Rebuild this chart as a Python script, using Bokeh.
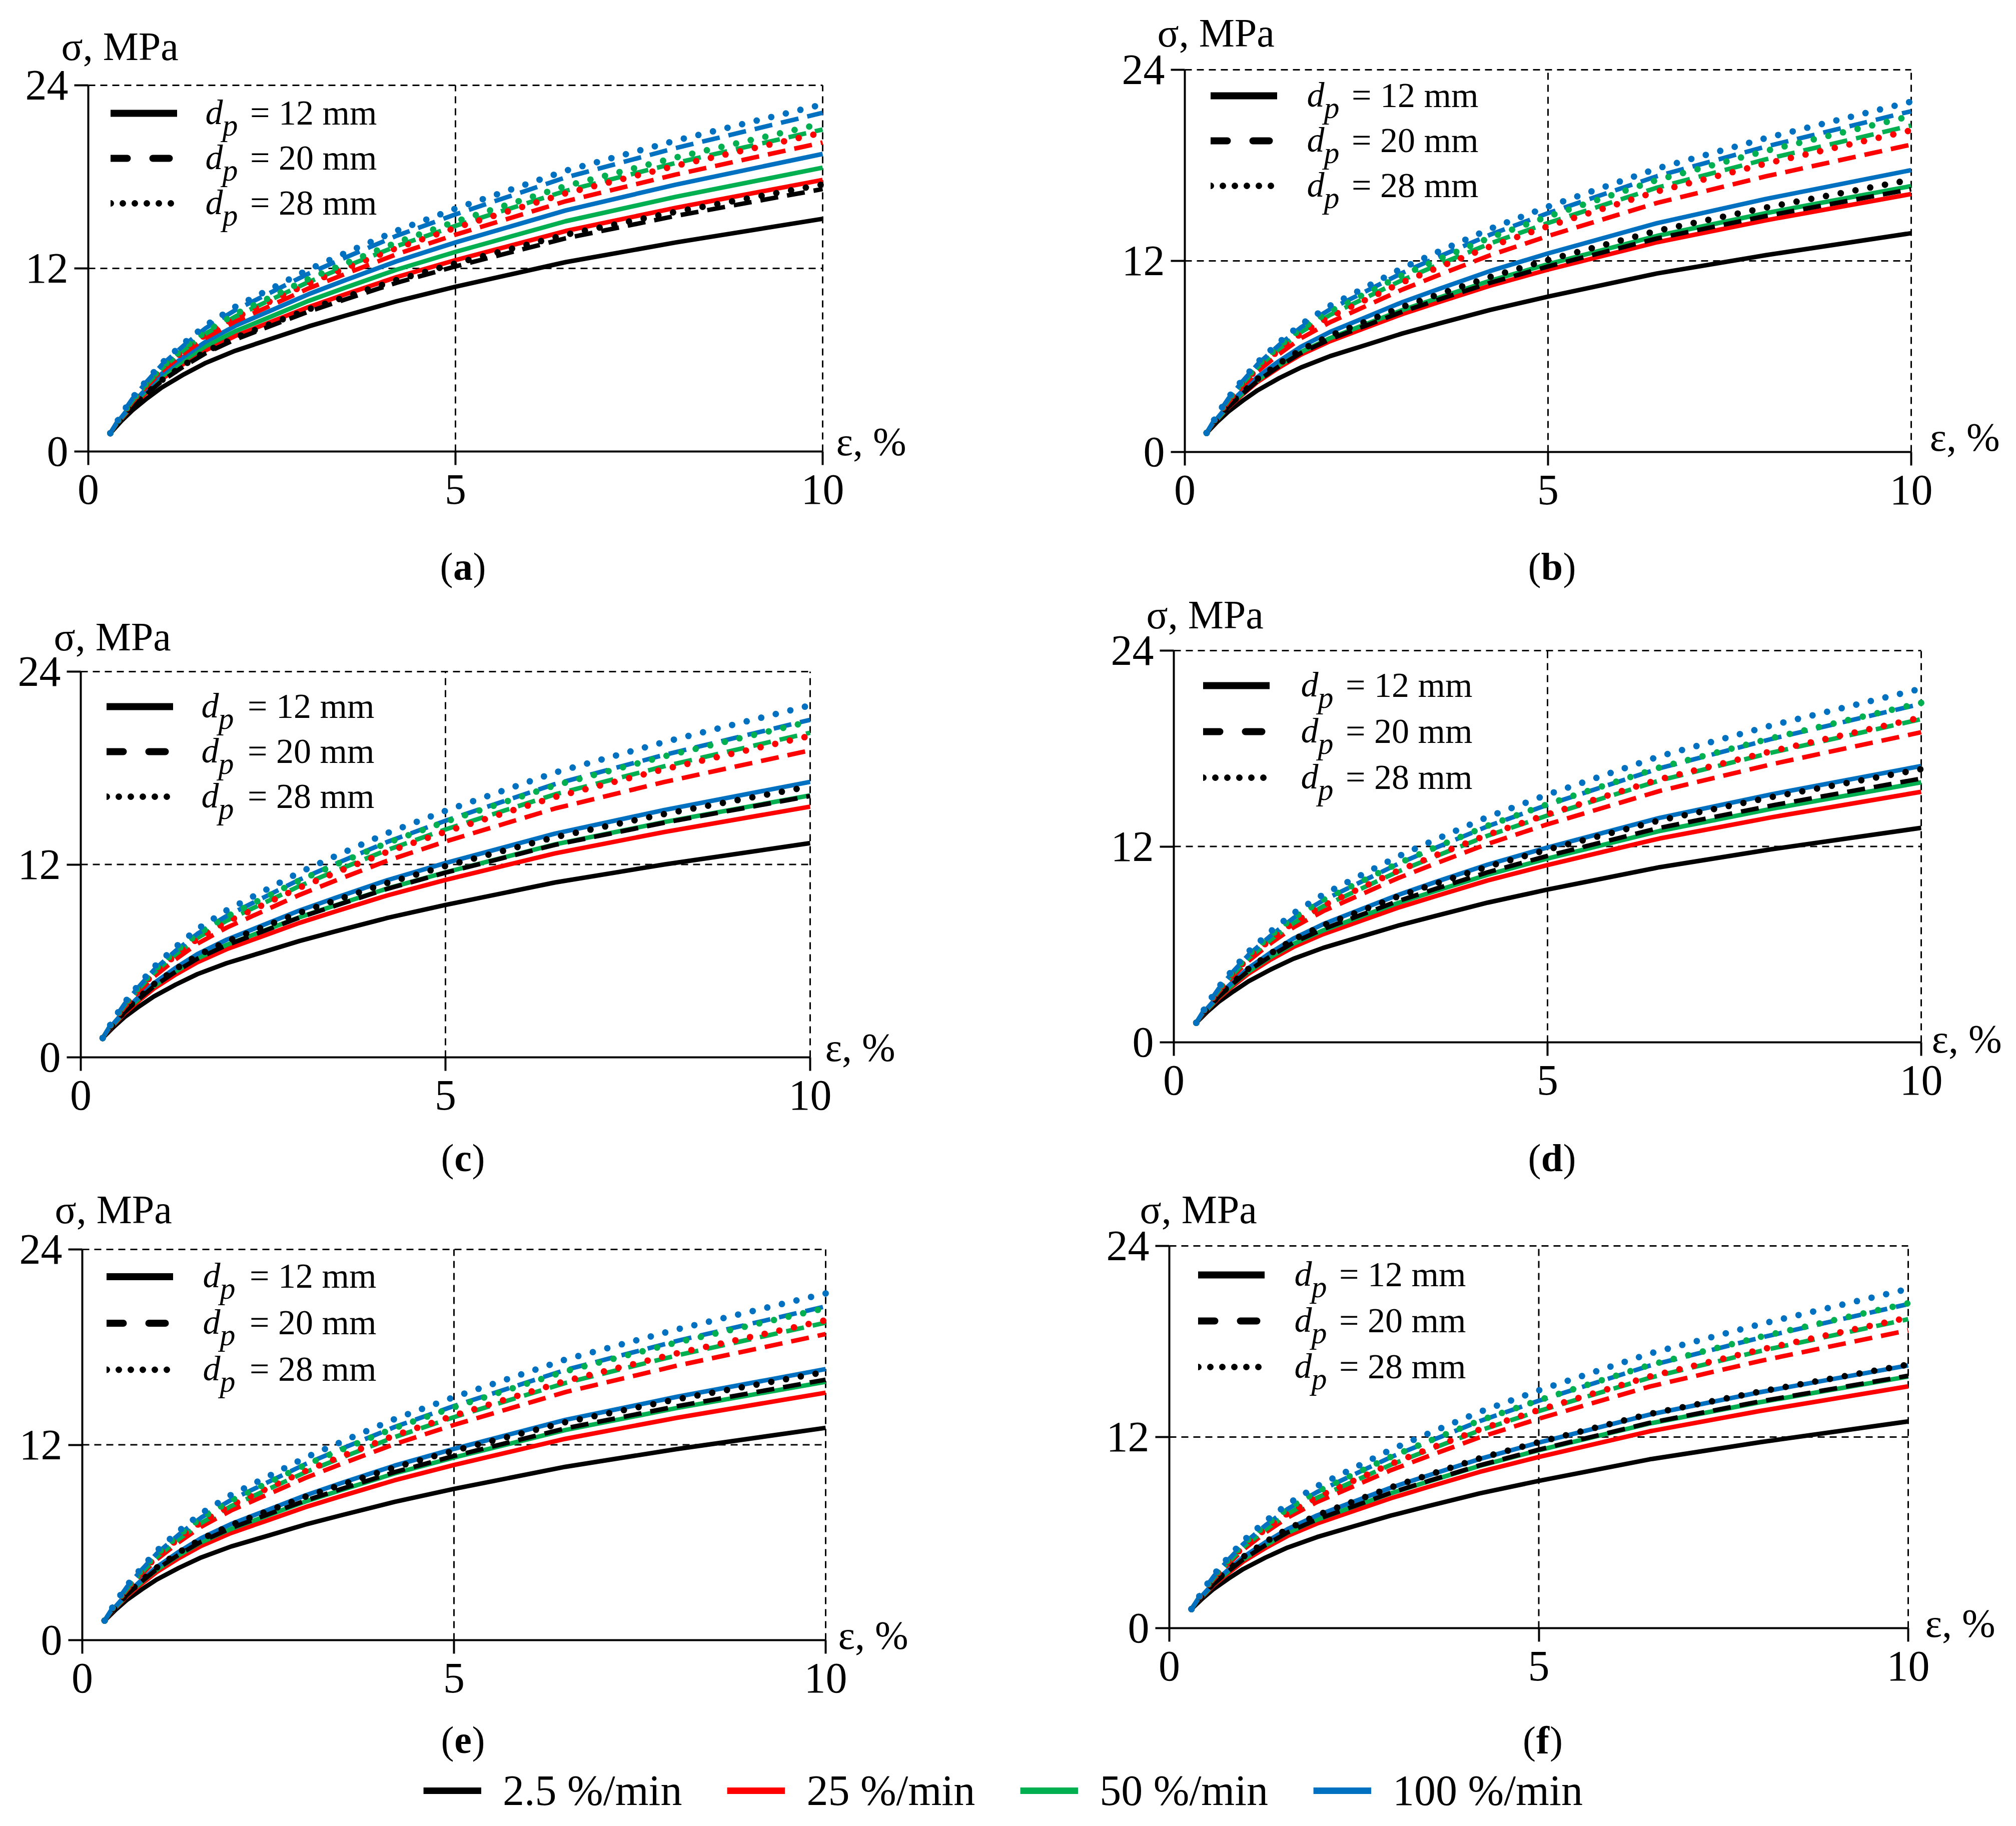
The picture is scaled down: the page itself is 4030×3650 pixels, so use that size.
import numpy as np
from bokeh.plotting import figure
from bokeh.models import Range1d, FixedTicker, Legend, LegendItem, Label
from bokeh.layouts import column, row
from bokeh.embed import file_html
from bokeh.resources import INLINE

# ---------------- data ----------------
EPS = [0.3, 0.45, 0.6, 0.8, 1.0, 1.3, 1.6, 2.0, 2.5, 3.0, 3.5, 4.2, 5.0, 6.5, 8.0, 10.0]
X_TICKS = [0, 5, 10]
Y_TICKS = [0, 12, 24]
RATE_LABELS = ["2.5 %/min", "25 %/min", "50 %/min", "100 %/min"]
RATE_COLORS = ["#000000", "#FF0000", "#00B050", "#0070C0"]
DP_LABELS = ["= 12 mm", "= 20 mm", "= 28 mm"]
PANEL_KEYS = ["a", "b", "c", "d", "e", "f"]

A_R2P5_D12 = [1.2, 2.00, 2.70, 3.48, 4.19, 5.05, 5.81, 6.60, 7.40, 8.20, 8.90, 9.85, 10.80, 12.41, 13.70, 15.25]
A_R2P5_D20 = [1.2, 2.11, 2.91, 3.79, 4.61, 5.58, 6.45, 7.34, 8.26, 9.17, 9.97, 11.06, 12.13, 13.97, 15.44, 17.2]
A_R2P5_D28 = [1.2, 2.13, 2.94, 3.84, 4.67, 5.67, 6.55, 7.46, 8.39, 9.32, 10.13, 11.24, 12.33, 14.21, 15.71, 17.5]
A_R25_D12 = [1.2, 2.15, 2.98, 3.89, 4.74, 5.75, 6.64, 7.57, 8.52, 9.47, 10.30, 11.43, 12.54, 14.45, 15.97, 17.8]
A_R25_D20 = [1.2, 2.29, 3.24, 4.29, 5.26, 6.42, 7.45, 8.52, 9.60, 10.69, 11.64, 12.93, 14.21, 16.40, 18.15, 20.25]
A_R25_D28 = [1.2, 2.32, 3.31, 4.39, 5.40, 6.60, 7.66, 8.76, 9.89, 11.01, 12.00, 13.34, 14.66, 16.92, 18.73, 20.9]
A_R50_D12 = [1.2, 2.19, 3.06, 4.02, 4.91, 5.97, 6.91, 7.88, 8.87, 9.87, 10.74, 11.92, 13.08, 15.09, 16.69, 18.6]
A_R50_D20 = [1.2, 2.33, 3.33, 4.42, 5.44, 6.65, 7.73, 8.84, 9.98, 11.11, 12.11, 13.46, 14.79, 17.08, 18.91, 21.1]
A_R50_D28 = [1.2, 2.36, 3.37, 4.49, 5.52, 6.76, 7.86, 9.00, 10.15, 11.31, 12.32, 13.70, 15.07, 17.40, 19.27, 21.5]
A_R100_D12 = [1.2, 2.24, 3.16, 4.16, 5.10, 6.21, 7.20, 8.23, 9.27, 10.31, 11.23, 12.47, 13.70, 15.80, 17.49, 19.5]
A_R100_D20 = [1.2, 2.40, 3.45, 4.60, 5.67, 6.95, 8.09, 9.26, 10.46, 11.66, 12.71, 14.14, 15.54, 17.96, 19.89, 22.2]
A_R100_D28 = [1.2, 2.43, 3.51, 4.69, 5.79, 7.10, 8.27, 9.48, 10.70, 11.93, 13.01, 14.47, 15.92, 18.40, 20.38, 22.75]

B_R2P5_D12 = [1.2, 1.91, 2.54, 3.23, 3.87, 4.64, 5.31, 6.02, 6.73, 7.45, 8.07, 8.92, 9.76, 11.21, 12.36, 13.74]
B_R2P5_D20 = [1.2, 2.07, 2.84, 3.68, 4.46, 5.39, 6.22, 7.08, 7.95, 8.82, 9.58, 10.62, 11.65, 13.41, 14.82, 16.5]
B_R2P5_D28 = [1.2, 2.11, 2.90, 3.78, 4.59, 5.56, 6.42, 7.31, 8.21, 9.12, 9.91, 10.99, 12.06, 13.89, 15.35, 17.1]
B_R25_D12 = [1.2, 2.06, 2.81, 3.63, 4.40, 5.31, 6.12, 6.96, 7.82, 8.67, 9.42, 10.44, 11.45, 13.17, 14.55, 16.2]
B_R25_D20 = [1.2, 2.23, 3.14, 4.13, 5.06, 6.16, 7.14, 8.15, 9.18, 10.21, 11.12, 12.35, 13.56, 15.64, 17.31, 19.3]
B_R25_D28 = [1.2, 2.28, 3.23, 4.28, 5.25, 6.41, 7.43, 8.50, 9.58, 10.66, 11.61, 12.90, 14.18, 16.36, 18.11, 20.2]
B_R50_D12 = [1.2, 2.08, 2.86, 3.71, 4.50, 5.45, 6.28, 7.15, 8.04, 8.92, 9.69, 10.75, 11.79, 13.57, 15.00, 16.7]
B_R50_D20 = [1.2, 2.30, 3.27, 4.33, 5.31, 6.49, 7.53, 8.61, 9.71, 10.81, 11.78, 13.09, 14.38, 16.60, 18.38, 20.5]
B_R50_D28 = [1.2, 2.33, 3.33, 4.42, 5.44, 6.65, 7.73, 8.84, 9.98, 11.11, 12.11, 13.46, 14.79, 17.08, 18.91, 21.1]
B_R100_D12 = [1.2, 2.14, 2.97, 3.87, 4.71, 5.72, 6.61, 7.54, 8.48, 9.42, 10.24, 11.36, 12.47, 14.37, 15.89, 17.7]
B_R100_D20 = [1.2, 2.35, 3.36, 4.47, 5.50, 6.73, 7.83, 8.96, 10.11, 11.26, 12.27, 13.64, 15.00, 17.32, 19.18, 21.4]
B_R100_D28 = [1.2, 2.39, 3.43, 4.57, 5.63, 6.90, 8.02, 9.19, 10.37, 11.56, 12.60, 14.01, 15.41, 17.80, 19.71, 22.0]

C_R2P5_D12 = [1.2, 1.89, 2.50, 3.17, 3.78, 4.52, 5.18, 5.86, 6.55, 7.24, 7.85, 8.67, 9.48, 10.88, 12.00, 13.33]
C_R2P5_D20 = [1.2, 2.06, 2.81, 3.64, 4.41, 5.33, 6.14, 6.98, 7.84, 8.70, 9.45, 10.48, 11.49, 13.22, 14.60, 16.26]
C_R2P5_D28 = [1.2, 2.09, 2.88, 3.74, 4.54, 5.49, 6.34, 7.21, 8.11, 9.00, 9.78, 10.85, 11.90, 13.70, 15.14, 16.86]
C_R25_D12 = [1.2, 2.02, 2.74, 3.53, 4.27, 5.15, 5.92, 6.73, 7.55, 8.37, 9.09, 10.07, 11.04, 12.69, 14.02, 15.6]
C_R25_D20 = [1.2, 2.22, 3.12, 4.10, 5.01, 6.10, 7.07, 8.07, 9.09, 10.11, 11.01, 12.23, 13.43, 15.48, 17.13, 19.1]
C_R25_D28 = [1.2, 2.27, 3.21, 4.25, 5.20, 6.35, 7.37, 8.42, 9.49, 10.56, 11.50, 12.78, 14.04, 16.20, 17.93, 20.0]
C_R50_D12 = [1.2, 2.06, 2.82, 3.65, 4.42, 5.34, 6.15, 7.00, 7.86, 8.72, 9.47, 10.50, 11.51, 13.25, 14.64, 16.3]
C_R50_D20 = [1.2, 2.28, 3.23, 4.28, 5.25, 6.41, 7.43, 8.50, 9.58, 10.66, 11.61, 12.90, 14.18, 16.36, 18.11, 20.2]
C_R50_D28 = [1.2, 2.32, 3.31, 4.39, 5.40, 6.60, 7.66, 8.76, 9.89, 11.01, 12.00, 13.34, 14.66, 16.92, 18.73, 20.9]
C_R100_D12 = [1.2, 2.11, 2.91, 3.78, 4.60, 5.57, 6.43, 7.32, 8.23, 9.14, 9.94, 11.02, 12.09, 13.92, 15.39, 17.14]
C_R100_D20 = [1.2, 2.33, 3.32, 4.41, 5.42, 6.63, 7.69, 8.80, 9.93, 11.06, 12.05, 13.40, 14.72, 17.00, 18.82, 21.0]
C_R100_D28 = [1.2, 2.38, 3.41, 4.55, 5.61, 6.87, 7.99, 9.15, 10.33, 11.51, 12.54, 13.95, 15.34, 17.72, 19.62, 21.9]

D_R2P5_D12 = [1.2, 1.88, 2.48, 3.13, 3.74, 4.47, 5.12, 5.79, 6.47, 7.15, 7.74, 8.56, 9.36, 10.73, 11.83, 13.14]
D_R2P5_D20 = [1.2, 2.05, 2.80, 3.62, 4.39, 5.30, 6.11, 6.94, 7.80, 8.65, 9.40, 10.42, 11.42, 13.14, 14.51, 16.16]
D_R2P5_D28 = [1.2, 2.09, 2.86, 3.72, 4.51, 5.46, 6.30, 7.17, 8.05, 8.94, 9.72, 10.77, 11.81, 13.60, 15.03, 16.74]
D_R25_D12 = [1.2, 2.01, 2.71, 3.49, 4.21, 5.08, 5.84, 6.63, 7.44, 8.25, 8.95, 9.92, 10.86, 12.49, 13.79, 15.35]
D_R25_D20 = [1.2, 2.21, 3.10, 4.08, 4.99, 6.08, 7.04, 8.04, 9.05, 10.06, 10.95, 12.16, 13.36, 15.40, 17.04, 19.0]
D_R25_D28 = [1.2, 2.27, 3.20, 4.23, 5.18, 6.32, 7.33, 8.38, 9.45, 10.51, 11.45, 12.72, 13.97, 16.12, 17.84, 19.9]
D_R50_D12 = [1.2, 2.04, 2.78, 3.59, 4.34, 5.24, 6.03, 6.86, 7.70, 8.54, 9.27, 10.27, 11.26, 12.95, 14.31, 15.93]
D_R50_D20 = [1.2, 2.26, 3.19, 4.21, 5.16, 6.30, 7.30, 8.34, 9.40, 10.46, 11.39, 12.66, 13.90, 16.04, 17.75, 19.8]
D_R50_D28 = [1.2, 2.32, 3.30, 4.38, 5.37, 6.57, 7.63, 8.73, 9.84, 10.96, 11.94, 13.27, 14.59, 16.84, 18.64, 20.8]
D_R100_D12 = [1.2, 2.10, 2.88, 3.75, 4.55, 5.51, 6.36, 7.24, 8.14, 9.03, 9.82, 10.89, 11.94, 13.75, 15.20, 16.93]
D_R100_D20 = [1.2, 2.31, 3.29, 4.37, 5.36, 6.55, 7.61, 8.70, 9.82, 10.93, 11.91, 13.24, 14.55, 16.79, 18.59, 20.74]
D_R100_D28 = [1.2, 2.37, 3.39, 4.52, 5.56, 6.81, 7.91, 9.06, 10.23, 11.39, 12.42, 13.81, 15.18, 17.53, 19.42, 21.67]

E_R2P5_D12 = [1.2, 1.87, 2.47, 3.12, 3.72, 4.44, 5.08, 5.75, 6.42, 7.10, 7.69, 8.49, 9.29, 10.65, 11.74, 13.04]
E_R2P5_D20 = [1.2, 2.04, 2.78, 3.60, 4.35, 5.26, 6.05, 6.88, 7.73, 8.57, 9.31, 10.32, 11.31, 13.01, 14.37, 16.0]
E_R2P5_D28 = [1.2, 2.07, 2.83, 3.68, 4.45, 5.39, 6.21, 7.07, 7.94, 8.81, 9.57, 10.61, 11.64, 13.39, 14.80, 16.48]
E_R25_D12 = [1.2, 2.00, 2.70, 3.47, 4.18, 5.04, 5.79, 6.58, 7.37, 8.17, 8.87, 9.82, 10.76, 12.37, 13.66, 15.2]
E_R25_D20 = [1.2, 2.20, 3.08, 4.05, 4.95, 6.02, 6.97, 7.96, 8.96, 9.96, 10.85, 12.04, 13.22, 15.24, 16.86, 18.8]
E_R25_D28 = [1.2, 2.25, 3.17, 4.19, 5.13, 6.26, 7.25, 8.28, 9.34, 10.39, 11.31, 12.57, 13.80, 15.92, 17.62, 19.65]
E_R50_D12 = [1.2, 2.04, 2.77, 3.58, 4.32, 5.22, 6.01, 6.83, 7.67, 8.51, 9.24, 10.24, 11.22, 12.91, 14.26, 15.87]
E_R50_D20 = [1.2, 2.24, 3.16, 4.16, 5.10, 6.21, 7.20, 8.23, 9.27, 10.31, 11.23, 12.47, 13.70, 15.80, 17.49, 19.5]
E_R50_D28 = [1.2, 2.29, 3.25, 4.31, 5.29, 6.46, 7.50, 8.57, 9.67, 10.76, 11.72, 13.03, 14.31, 16.52, 18.29, 20.4]
E_R100_D12 = [1.2, 2.08, 2.85, 3.70, 4.49, 5.43, 6.27, 7.13, 8.01, 8.89, 9.67, 10.72, 11.75, 13.53, 14.95, 16.65]
E_R100_D20 = [1.2, 2.30, 3.27, 4.33, 5.31, 6.49, 7.53, 8.61, 9.71, 10.81, 11.78, 13.09, 14.38, 16.60, 18.38, 20.5]
E_R100_D28 = [1.2, 2.35, 3.35, 4.46, 5.48, 6.71, 7.79, 8.92, 10.06, 11.21, 12.21, 13.58, 14.93, 17.24, 19.09, 21.3]

F_R2P5_D12 = [1.2, 1.87, 2.46, 3.11, 3.71, 4.43, 5.06, 5.72, 6.40, 7.07, 7.66, 8.46, 9.25, 10.60, 11.68, 12.98]
F_R2P5_D20 = [1.2, 2.04, 2.77, 3.57, 4.32, 5.21, 6.01, 6.83, 7.66, 8.50, 9.23, 10.22, 11.21, 12.89, 14.24, 15.85]
F_R2P5_D28 = [1.2, 2.08, 2.84, 3.69, 4.47, 5.41, 6.23, 7.09, 7.97, 8.84, 9.61, 10.66, 11.68, 13.45, 14.86, 16.55]
F_R25_D12 = [1.2, 2.00, 2.70, 3.46, 4.18, 5.03, 5.79, 6.57, 7.37, 8.16, 8.86, 9.81, 10.75, 12.36, 13.64, 15.18]
F_R25_D20 = [1.2, 2.20, 3.07, 4.04, 4.93, 6.00, 6.94, 7.92, 8.92, 9.92, 10.79, 11.98, 13.15, 15.17, 16.78, 18.7]
F_R25_D28 = [1.2, 2.24, 3.16, 4.16, 5.10, 6.21, 7.20, 8.23, 9.27, 10.31, 11.23, 12.47, 13.70, 15.80, 17.49, 19.5]
F_R50_D12 = [1.2, 2.03, 2.76, 3.57, 4.31, 5.20, 5.99, 6.81, 7.64, 8.47, 9.20, 10.19, 11.17, 12.85, 14.19, 15.8]
F_R50_D20 = [1.2, 2.24, 3.15, 4.15, 5.08, 6.19, 7.17, 8.19, 9.23, 10.26, 11.17, 12.41, 13.63, 15.72, 17.40, 19.4]
F_R50_D28 = [1.2, 2.29, 3.25, 4.31, 5.29, 6.46, 7.50, 8.57, 9.67, 10.76, 11.72, 13.03, 14.31, 16.52, 18.29, 20.4]
F_R100_D12 = [1.2, 2.07, 2.84, 3.68, 4.46, 5.39, 6.22, 7.08, 7.95, 8.82, 9.58, 10.62, 11.65, 13.41, 14.82, 16.5]
F_R100_D20 = [1.2, 2.29, 3.25, 4.30, 5.28, 6.45, 7.48, 8.55, 9.65, 10.74, 11.69, 13.00, 14.28, 16.48, 18.24, 20.35]
F_R100_D28 = [1.2, 2.35, 3.35, 4.46, 5.48, 6.71, 7.79, 8.92, 10.06, 11.21, 12.21, 13.58, 14.93, 17.24, 19.09, 21.3]

# series[panel][rate][dp]
SERIES = {
    "a": [[A_R2P5_D12, A_R2P5_D20, A_R2P5_D28], [A_R25_D12, A_R25_D20, A_R25_D28],
          [A_R50_D12, A_R50_D20, A_R50_D28], [A_R100_D12, A_R100_D20, A_R100_D28]],
    "b": [[B_R2P5_D12, B_R2P5_D20, B_R2P5_D28], [B_R25_D12, B_R25_D20, B_R25_D28],
          [B_R50_D12, B_R50_D20, B_R50_D28], [B_R100_D12, B_R100_D20, B_R100_D28]],
    "c": [[C_R2P5_D12, C_R2P5_D20, C_R2P5_D28], [C_R25_D12, C_R25_D20, C_R25_D28],
          [C_R50_D12, C_R50_D20, C_R50_D28], [C_R100_D12, C_R100_D20, C_R100_D28]],
    "d": [[D_R2P5_D12, D_R2P5_D20, D_R2P5_D28], [D_R25_D12, D_R25_D20, D_R25_D28],
          [D_R50_D12, D_R50_D20, D_R50_D28], [D_R100_D12, D_R100_D20, D_R100_D28]],
    "e": [[E_R2P5_D12, E_R2P5_D20, E_R2P5_D28], [E_R25_D12, E_R25_D20, E_R25_D28],
          [E_R50_D12, E_R50_D20, E_R50_D28], [E_R100_D12, E_R100_D20, E_R100_D28]],
    "f": [[F_R2P5_D12, F_R2P5_D20, F_R2P5_D28], [F_R25_D12, F_R25_D20, F_R25_D28],
          [F_R50_D12, F_R50_D20, F_R50_D28], [F_R100_D12, F_R100_D20, F_R100_D28]],
}

# ---------------- layout / style ----------------
FONT = "Liberation Serif"
MID = 0.34  # centre of the em box above the baseline, in em

# figure width, height, pixel x of eps=0, eps=10, pixel y of sigma=0, sigma=24 (from figure top-left)
FIG = {
    "a": (2000, 1180, 176, 1644, 902, 170),
    "b": (2010, 1180, 368, 1820, 903, 139),
    "c": (2000, 1188, 161, 1619, 933, 162),
    "d": (2010, 1188, 346, 1840, 903, 120),
    "e": (2000, 1158, 164, 1650, 910, 129),
    "f": (2010, 1158, 337, 1814, 886, 122),
}
# sigma label (dx, baseline above 24), eps label (dx, baseline below 0), caption (dx from 5, centre below 0)
ANN = {
    "a": ((-54, 50), (27, 8), (15, 230)),
    "b": ((-55, 46), (37, -2), (8, 229)),
    "c": ((-54, 42), (30, 8), (35, 201)),
    "d": ((-55, 44), (21, 21), (9, 231)),
    "e": ((-55, 52), (25, 18), (18, 200)),
    "f": ((-59, 45), (34, 18), (8, 224)),
}
# legend: sample x0 (from eps=0), first row y (below 24), "d" x, "=" x, row pitch
LEG = {
    "a": (38, 63, 234, 324, 90),
    "b": (45, 59, 244, 334, 90),
    "c": (45, 77, 241, 334, 90),
    "d": (52, 77, 254, 344, 92),
    "e": (42, 61, 241, 335, 93),
    "f": (51, 65, 250, 340, 92),
}
LEG_UP = 7
CAP_HALF = {"a": 20, "b": 22, "c": 18, "d": 22, "e": 18, "f": 14}

CURVE_STYLES = [
    dict(line_width=9, line_join="round"),
    dict(line_width=9, line_dash="36 18", line_cap="butt"),
    dict(line_width=13, line_dash="0 30", line_cap="round"),
]
NAN = np.array([np.nan])


def add_text(p, x, y, dx, dy, text, size, style="normal", align="left"):
    p.add_layout(Label(x=x, y=y, x_offset=dx, y_offset=dy, text=text,
                       text_font=FONT, text_font_style=style, text_font_size=f"{size}px",
                       text_baseline="middle", text_align=align, text_color="black"))


def make_panel(key):
    W, H, px0, px10, py0, py24 = FIG[key]
    kx = (px10 - px0) / (X_TICKS[-1] - X_TICKS[0])
    ky = (py0 - py24) / (Y_TICKS[-1] - Y_TICKS[0])
    xr = Range1d(X_TICKS[0] - px0 / kx, X_TICKS[0] + (W - px0) / kx)
    yr = Range1d(Y_TICKS[0] - (H - py0) / ky, Y_TICKS[0] + py0 / ky)
    p = figure(width=W, height=H, x_range=xr, y_range=yr,
               output_backend="svg", toolbar_location=None,
               min_border_left=0, min_border_right=0, min_border_top=0, min_border_bottom=0,
               outline_line_color=None, background_fill_color="white", border_fill_color="white")
    p.xgrid.visible = False
    p.ygrid.visible = False
    for ax, ticks in ((p.xaxis[0], X_TICKS), (p.yaxis[0], Y_TICKS)):
        ax.ticker = FixedTicker(ticks=ticks)
        ax.bounds = (ticks[0], ticks[-1])
        ax.fixed_location = 0
        ax.axis_line_width = 4
        ax.axis_line_color = "black"
        ax.major_tick_line_width = 4
        ax.major_tick_line_color = "black"
        ax.major_tick_in = 0
        ax.minor_tick_line_color = None
        ax.major_label_text_font = FONT
        ax.major_label_text_font_size = "86px"
        ax.major_label_text_color = "black"
    p.xaxis[0].major_tick_out = 27
    p.xaxis[0].major_label_standoff = 20
    p.yaxis[0].major_tick_out = 28
    p.yaxis[0].major_label_standoff = 12

    # dashed reference lines at the ticks
    gx = X_TICKS[1:]
    p.segment(x0=gx, y0=[Y_TICKS[0]] * len(gx), x1=gx, y1=[Y_TICKS[-1]] * len(gx),
              line_color="black", line_width=3, line_dash="14 10")
    gy = Y_TICKS[1:]
    p.segment(x0=[X_TICKS[0]] * len(gy), y0=gy, x1=[X_TICKS[-1]] * len(gy), y1=gy,
              line_color="black", line_width=3, line_dash="14 10")

    # curves
    for si, st in enumerate(CURVE_STYLES):
        for ci, color in enumerate(RATE_COLORS):
            p.line(EPS, SERIES[key][ci][si], line_color=color, **st)

    # in-panel legend (diameter)
    sx0, row1, dx, eqx, pitch = LEG[key]
    r_leg = [
        p.line(NAN, NAN, line_color="black", line_width=14, line_cap="round"),
        p.line(NAN, NAN, line_color="black", line_width=14, line_cap="round", line_dash="33 51 33 300"),
        p.line(NAN, NAN, line_color="black", line_width=13, line_cap="round",
               line_dash="0 24 0 24 0 24 0 24 0 24 0 300"),
    ]
    vx = px0 + sx0 + 7
    vy = H - (py24 + row1 - LEG_UP + 2.5 * pitch)
    legend = Legend(items=[LegendItem(label=DP_LABELS[i], renderers=[r_leg[i]]) for i in range(3)],
                    location=(vx, vy), orientation="vertical",
                    glyph_width=133, glyph_height=pitch, label_height=pitch,
                    label_standoff=eqx - (sx0 + 140), spacing=0, padding=0, margin=0,
                    border_line_color=None, background_fill_alpha=0,
                    label_text_font=FONT, label_text_font_size="70px",
                    label_text_color="black")
    p.add_layout(legend)
    for i in range(3):
        base = row1 - LEG_UP + 22 + i * pitch       # baseline of the legend text, below 24
        add_text(p, X_TICKS[0], Y_TICKS[-1], dx, -(base - MID * 70), "d", 70, style="italic")
        add_text(p, X_TICKS[0], Y_TICKS[-1], dx + 34, -(base + 23 - MID * 62), "p", 62, style="italic")

    (sdx, sdy), (edx, edy), (cdx, cdy) = ANN[key]
    add_text(p, X_TICKS[0], Y_TICKS[-1], sdx, sdy + MID * 80, "σ, MPa", 80)
    add_text(p, X_TICKS[-1], Y_TICKS[0], edx, -edy + MID * 80, "ε, %", 80)
    # caption "(x)" with bold letter
    half = CAP_HALF[key]
    cx = X_TICKS[1]
    add_text(p, cx, Y_TICKS[0], cdx, -cdy, key, 78, style="bold", align="center")
    add_text(p, cx, Y_TICKS[0], cdx - half, -cdy, "(", 78, align="right")
    add_text(p, cx, Y_TICKS[0], cdx + half, -cdy, ")", 78, align="left")
    return p


panels = {k: make_panel(k) for k in PANEL_KEYS}

# bottom legend (strain rate)
pl = figure(width=4010, height=106, x_range=Range1d(0, 1), y_range=Range1d(0, 1),
            x_axis_type=None, y_axis_type=None, output_backend="svg", toolbar_location=None,
            outline_line_color=None, min_border=0, background_fill_color="white",
            border_fill_color="white")
pl.grid.visible = False
rr = [pl.line(NAN, NAN, line_color=c, line_width=13) for c in RATE_COLORS]
bottom_legend = Legend(items=[LegendItem(label=l, renderers=[r]) for l, r in zip(RATE_LABELS, rr)],
                       location="center", orientation="horizontal",
                       glyph_width=116, glyph_height=100, label_height=100, label_standoff=43,
                       spacing=90, padding=0, margin=0, border_line_color=None,
                       background_fill_alpha=0, label_text_font=FONT,
                       label_text_font_size="86px", label_text_color="black")
pl.add_layout(bottom_legend)

layout = column(row(panels["a"], panels["b"]),
                row(panels["c"], panels["d"]),
                row(panels["e"], panels["f"]),
                pl)

open("out.html", "w").write(file_html(layout, INLINE, title="stress-strain"))
